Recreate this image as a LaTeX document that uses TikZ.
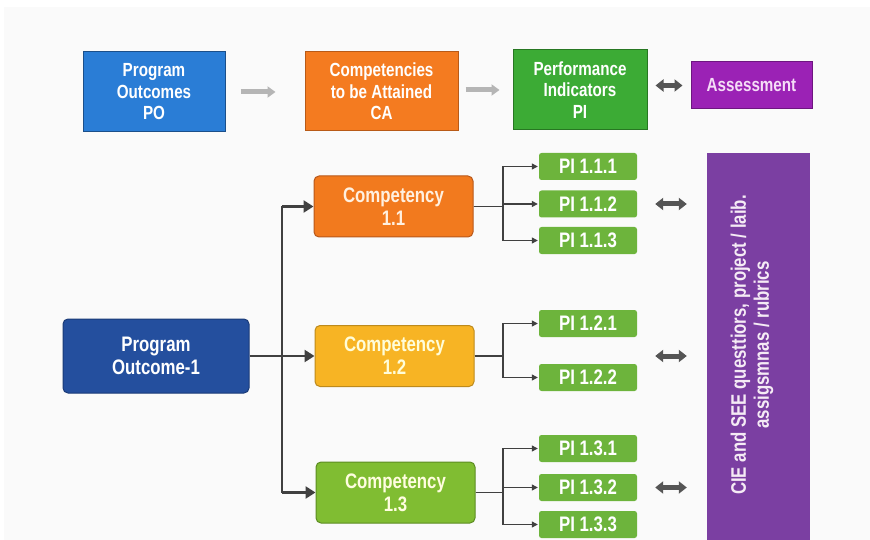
\documentclass[tikz,border=0pt]{standalone}
\usepackage{fontspec}
\setmainfont{Liberation Sans}[FakeStretch=0.8]
\usetikzlibrary{arrows.meta,calc}

\definecolor{bgpaper}{HTML}{FAFAFA}
\definecolor{poblue}{HTML}{2A7DD6}
\definecolor{pobluedk}{HTML}{1B4F8A}
\definecolor{caorange}{HTML}{F47B20}
\definecolor{caorangedk}{HTML}{B85A17}
\definecolor{pigreen}{HTML}{3CAB35}
\definecolor{pigreendk}{HTML}{277722}
\definecolor{aspurple}{HTML}{9B22B5}
\definecolor{aspurpledk}{HTML}{6E1680}
\definecolor{astext}{HTML}{F5DDF7}
\definecolor{compor}{HTML}{F27A1E}
\definecolor{comporedge}{HTML}{B8581A}
\definecolor{compyel}{HTML}{F7B424}
\definecolor{compyeledge}{HTML}{BD8A1C}
\definecolor{compgrn}{HTML}{80BD32}
\definecolor{compgrnedge}{HTML}{5C8C22}
\definecolor{outblue}{HTML}{244F9E}
\definecolor{outbluedk}{HTML}{1A3A77}
\definecolor{pismall}{HTML}{6DB43C}
\definecolor{tallpurple}{HTML}{7B3FA2}
\definecolor{connector}{HTML}{404040}
\definecolor{flowgray}{HTML}{B5B5B5}
\definecolor{dblgray}{HTML}{555555}

\tikzset{
  topbox/.style={draw, line width=1pt, align=center, text=white,
    font=\fontsize{19}{21.5}\selectfont\bfseries, inner sep=0pt},
  compbox/.style={draw, line width=1pt, rounded corners=5pt, align=center,
    minimum width=159pt, minimum height=61pt, inner sep=0pt,
    font=\fontsize{21}{23}\selectfont\bfseries},
  pibox/.style={fill=pismall, rounded corners=2.5pt, minimum width=98pt,
    minimum height=27pt, inner sep=0pt, text=white,
    font=\fontsize{21}{22}\selectfont\bfseries},
  flowarrow/.style={draw=flowgray, line width=5pt,
    -{Triangle[length=8pt,width=11pt]}},
  dblarrow/.style={draw=dblgray, line width=5pt,
    {Triangle[length=8pt,width=12pt]}-{Triangle[length=8pt,width=12pt]}},
  trunk/.style={draw=connector, line width=2.6pt},
  trunkarrow/.style={trunk, -{Triangle[length=10pt,width=12pt]}},
  branch/.style={draw=connector, line width=1.2pt,
    -{Triangle[length=6pt,width=6pt]}}
}

\begin{document}
\begin{tikzpicture}[x=1pt,y=-1pt]
  % page and backdrop
  \useasboundingbox (0,0) rectangle (870,540);
  \fill[white] (0,0) rectangle (870,540);
  \fill[bgpaper] (4,7) rectangle (870,540);

  % top legend row
  \node[topbox, fill=poblue, draw=pobluedk, minimum width=142pt, minimum height=80pt]
    (po) at (154,92) {Program\\Outcomes\\PO};
  \node[topbox, fill=caorange, draw=caorangedk, minimum width=153pt, minimum height=79pt]
    (ca) at (381.5,91.5) {Competencies\\to be Attained\\CA};
  \node[topbox, fill=pigreen, draw=pigreendk, minimum width=134pt, minimum height=80pt]
    (pi) at (580,90) {Performance\\Indicators\\PI};
  \node[topbox, fill=aspurple, draw=aspurpledk, text=astext, minimum width=121pt, minimum height=47pt]
    (as) at (751.5,85.5) {Assessment};

  \draw[flowarrow, shorten <=15pt, shorten >=29pt] (po.east) -- (ca.west |- po.east);
  \draw[flowarrow, shorten <=7pt, shorten >=13pt] (ca.east |- pi.west) -- (pi.west);
  \draw[dblarrow, shorten <=8pt, shorten >=8pt] (pi.east |- as.west) -- (as.west);

  % program outcome and its competencies
  \node[compbox, fill=outblue, draw=outbluedk, text=white, minimum width=186pt, minimum height=74pt]
    (po1) at (156,356) {Program\\Outcome-1};
  \node[compbox, fill=compor, draw=comporedge, text=white!88!orange]
    (c11) at (393.5,206.5) {Competency\\1.1};
  \node[compbox, fill=compyel, draw=compyeledge, text=white!85!yellow]
    (c12) at (394.5,356) {Competency\\1.2};
  \node[compbox, fill=compgrn, draw=compgrnedge, text=white!88!yellow]
    (c13) at (395.5,492.5) {Competency\\1.3};

  \coordinate (tx) at (282,0);
  \draw[trunkarrow] (po1.east) -- (c12.west);
  \draw[trunk] (c11.west -| tx) -- (c13.west -| tx);
  \draw[trunkarrow] (c11.west -| tx) -- (c11.west);
  \draw[trunkarrow] (c13.west -| tx) -- (c13.west);

  % performance indicators
  \node[pibox] (p111) at (588,166.5) {PI 1.1.1};
  \node[pibox] (p112) at (588,204) {PI 1.1.2};
  \node[pibox] (p113) at (588,240.5) {PI 1.1.3};
  \node[pibox] (p121) at (588,323.5) {PI 1.2.1};
  \node[pibox] (p122) at (588,377.5) {PI 1.2.2};
  \node[pibox] (p131) at (588,448.5) {PI 1.3.1};
  \node[pibox] (p132) at (588,487.5) {PI 1.3.2};
  \node[pibox] (p133) at (588,524.5) {PI 1.3.3};

  \coordinate (bx) at (503,0);
  \foreach \c/\p in {c11/p111,c11/p112,c11/p113,c12/p121,c12/p122,c13/p131,c13/p132,c13/p133}{
    \draw[branch, shorten >=1pt] (\c.east) -- (\c.east -| bx) |- (\p.west);
  }

  % assessment instruments
  \node[fill=tallpurple, minimum width=103pt, minimum height=400pt, inner sep=0pt, anchor=north]
    (cie) at (758.5,153) {};
  \node[rotate=90, align=center, text=white!92!violet,
        font=\fontsize{21}{23}\selectfont\bfseries]
    (ciet) at (752,345) {CIE and SEE questtiors, project / laib.\\assigsmnas / rubrics};

  \draw[dblarrow, shorten <=18pt, shorten >=20pt] (p112.east) -- (p112.east -| cie.west);
  \draw[dblarrow, shorten <=18pt, shorten >=20pt] (c12.east -| p121.east) -- (c12.east -| cie.west);
  \draw[dblarrow, shorten <=18pt, shorten >=20pt] (p132.east) -- (p132.east -| cie.west);
\end{tikzpicture}
\end{document}
